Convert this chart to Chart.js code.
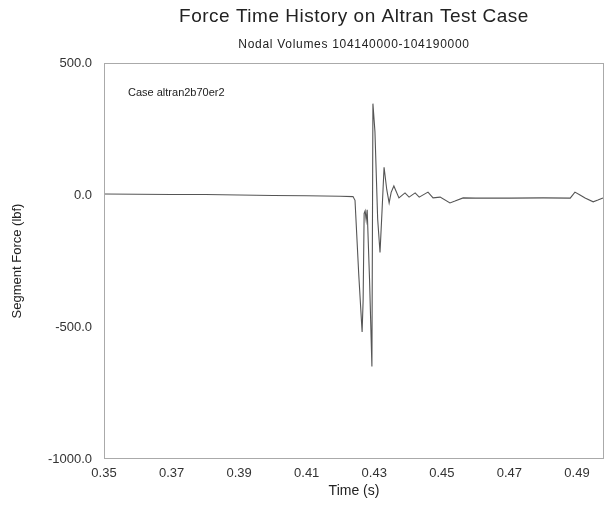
<!DOCTYPE html>
<html><head><meta charset="utf-8">
<script src="https://cdn.jsdelivr.net/npm/chart.js@4/dist/chart.umd.min.js"></script>
<style>html,body{margin:0;padding:0;background:#fff}#wrap{width:607px;height:505px}</style>
</head><body><div id="wrap"><canvas id="c" width="607" height="505"></canvas></div>
<script>
const chartTitle = "Force Time History on Altran Test Case";
const chartSubtitle = "Nodal Volumes 104140000-104190000";
const caseLabel = "Case altran2b70er2";
const xAxisTitle = "Time (s)";
const yAxisTitle = "Segment Force (lbf)";

const timeValues = [
  0.350, 0.360, 0.370, 0.380, 0.390, 0.400, 0.410, 0.420, 0.4237,
  0.4243, 0.4254, 0.4264, 0.4267, 0.4270, 0.4273, 0.4276, 0.4279,
  0.4286, 0.4293, 0.4296, 0.4302, 0.4310, 0.4317, 0.4323, 0.4329,
  0.4337, 0.4344, 0.4350, 0.4358, 0.4373, 0.4391, 0.4403, 0.4421,
  0.4433, 0.4459, 0.4474, 0.4495, 0.4524, 0.4539, 0.4563, 0.4600,
  0.4700, 0.4800, 0.4880, 0.4894, 0.4909, 0.4924, 0.4948, 0.4962, 0.4977
];
const forceValues = [
  4, 3, 2, 2, 0, -2, -3, -5, -6,
  -20, -300, -519, -400, -70, -60, -95, -56,
  -320, -650, 346, 240, -90, -218, -60, 105,
  20, -30, 10, 34, -11, 8, -8, 8,
  -8, 11, -11, -8, -30, -23, -11, -12,
  -12, -11, -12, 11, 0, -11, -26, -19, -11
];
const xTickValues = [0.35, 0.37, 0.39, 0.41, 0.43, 0.45, 0.47, 0.49];
const yTickValues = [-1000, -500, 0, 500];

const FONT = "'Liberation Sans', Arial, sans-serif";

const decor = {
  id: 'decor',
  afterDraw(chart) {
    const ctx = chart.ctx, a = chart.chartArea;
    ctx.save();
    ctx.strokeStyle = '#aaa';
    ctx.lineWidth = 1;
    ctx.strokeRect(a.left + 0.5, a.top + 0.5, a.right - a.left - 1, a.bottom - a.top - 1);
    const cx = (a.left + a.right) / 2;
    ctx.fillStyle = '#222';
    ctx.textAlign = 'center';
    ctx.textBaseline = 'middle';
    ctx.font = "19px " + FONT;
    ctx.letterSpacing = '0.5px';
    ctx.fillText(chartTitle, cx, 17);
    ctx.font = "12px " + FONT;
    ctx.letterSpacing = '0.7px';
    ctx.fillText(chartSubtitle, cx, 45);
    ctx.letterSpacing = '0px';
    ctx.textAlign = 'left';
    ctx.font = "11px " + FONT;
    ctx.fillText(caseLabel, a.left + 24, a.top + 30);
    ctx.restore();
  }
};

new Chart(document.getElementById('c'), {
  type: 'line',
  data: {
    datasets: [{
      data: timeValues.map((t, i) => ({x: t, y: forceValues[i]})),
      borderColor: '#555',
      borderWidth: 1.1,
      pointRadius: 0,
      tension: 0,
      fill: false
    }]
  },
  options: {
    responsive: false,
    animation: false,
    devicePixelRatio: 1,
    layout: {padding: {top: 63, right: 3, left: 0, bottom: 0}},
    plugins: {legend: {display: false}, tooltip: {enabled: false}, title: {display: false}},
    scales: {
      x: {
        type: 'linear', min: 0.35, max: 0.498,
        afterBuildTicks: s => { s.ticks = xTickValues.map(v => ({value: v})); },
        afterFit: s => { s.height = 46; },
        grid: {display: false, drawTicks: false},
        border: {display: false},
        ticks: {autoSkip: false, maxRotation: 0, padding: 7, color: '#333',
                font: {family: FONT, size: 13}, callback: v => Number(v).toFixed(2)},
        title: {display: true, text: xAxisTitle, color: '#222',
                font: {family: FONT, size: 14}, padding: {top: 0, bottom: 5}}
      },
      y: {
        type: 'linear', min: -1000, max: 500,
        afterBuildTicks: s => { s.ticks = yTickValues.map(v => ({value: v})); },
        afterFit: s => { s.width = 104; },
        grid: {display: false, drawTicks: false},
        border: {display: false},
        ticks: {autoSkip: false, padding: 12, color: '#333',
                font: {family: FONT, size: 13}, callback: v => Number(v).toFixed(1)},
        title: {display: true, text: yAxisTitle, color: '#222',
                font: {family: FONT, size: 13}, padding: {top: 10, bottom: 0}}
      }
    }
  },
  plugins: [decor]
});
</script>
</body></html>
